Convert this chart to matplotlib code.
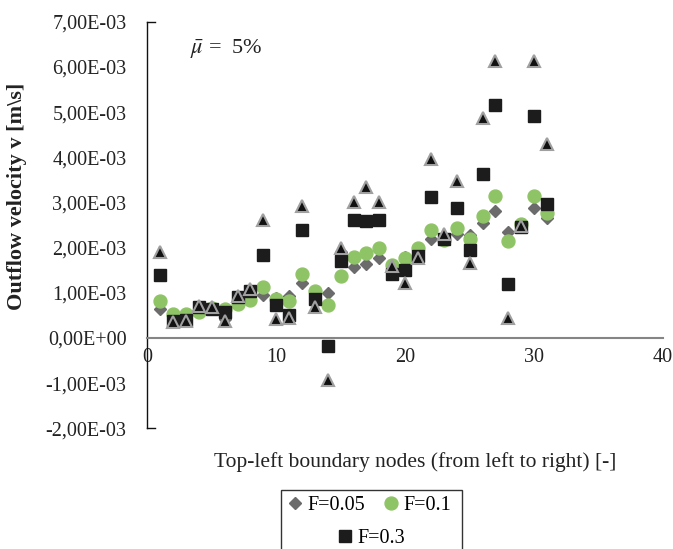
import matplotlib
matplotlib.use("Agg")
import matplotlib.pyplot as plt
from matplotlib.lines import Line2D
from matplotlib.patches import Rectangle
from matplotlib.ticker import FuncFormatter, MultipleLocator

plt.rcParams['font.family'] = ['Liberation Serif', 'DejaVu Serif']
plt.rcParams['mathtext.fontset'] = 'stix'

nodes = list(range(1, 32))
f005 = [0.65, 0.40, 0.40, 0.65, 0.63, 0.42, 0.85, 0.95, 0.96, 0.88, 0.93, 1.22, 0.95, 1.00, 1.90,
        1.57, 1.64, 1.78, 1.62, 1.80, 1.85, 2.20, 2.22, 2.31, 2.28, 2.55, 2.81, 2.35, 2.45, 2.88, 2.66]
f01 = [0.81, 0.54, 0.54, 0.57, 0.66, 0.65, 0.76, 0.84, 1.13, 0.87, 0.81, 1.42, 1.04, 0.74, 1.37,
       1.79, 1.87, 1.99, 1.61, 1.77, 1.99, 2.38, 2.16, 2.43, 2.20, 2.71, 3.15, 2.14, 2.53, 3.15, 2.77]
f03 = [1.385, 0.38, 0.40, 0.69, 0.65, 0.57, 0.91, 1.05, 1.84, 0.72, 0.50, 2.40, 0.86, -0.18, 1.70,
       2.60, 2.58, 2.60, 1.42, 1.50, 1.81, 3.12, 2.18, 2.88, 1.94, 3.63, 5.16, 1.20, 2.45, 4.92, 2.97]
f_tri = [1.90, 0.35, 0.38, 0.70, 0.68, 0.38, 0.93, 1.09, 2.60, 0.43, 0.45, 2.91, 0.69, -0.92, 1.98,
         3.02, 3.34, 3.02, 1.60, 1.22, 1.77, 3.95, 2.29, 3.47, 1.66, 4.87, 6.14, 0.44, 2.48, 6.14, 4.30]
scale = 1e-3

W, H = 673, 549
fig = plt.figure(figsize=(W / 100, H / 100), dpi=100)
ax = fig.add_axes([147.3 / W, 1 - 428.3 / H, (663 - 147.3) / W, (428.3 - 21.7) / H])

c_dia = '#6b6b6b'
c_cir = '#8fc466'
c_sq = '#1c1c1c'

ax.plot(nodes, [v * scale for v in f005], linestyle='none', marker='D', ms=6.2,
        mfc=c_dia, mec=c_dia, zorder=3)
ax.plot(nodes, [v * scale for v in f01], linestyle='none', marker='o', ms=9.3,
        mfc=c_cir, mec=c_cir, zorder=4)
ax.plot(nodes, [v * scale for v in f03], linestyle='none', marker='s', ms=8.0,
        mfc=c_sq, mec=c_sq, zorder=5)
ax.plot(nodes, [v * scale for v in f_tri], linestyle='none', marker='^', ms=8.3,
        mfc='#111111', mec='#a0a0a0', mew=1.5, zorder=6)

ax.set_xlim(0, 40)
ax.set_ylim(-2e-3, 7e-3)
ax.xaxis.set_major_locator(MultipleLocator(10))
ax.yaxis.set_major_locator(MultipleLocator(1e-3))
ax.yaxis.set_major_formatter(FuncFormatter(lambda v, p: f"{v:.2E}".replace('.', ',')))

for s in ['top', 'right']:
    ax.spines[s].set_visible(False)
ax.spines['bottom'].set_position(('data', 0))
ax.spines['bottom'].set_color('#858585')
ax.spines['bottom'].set_linewidth(1.5)
ax.spines['left'].set_color('#111111')
ax.spines['left'].set_linewidth(1.0)
ax.tick_params(axis='both', length=0, labelsize=14.5, colors='#222222')
ax.tick_params(axis='y', pad=15)
ax.tick_params(axis='x', pad=7)

# small caps at the ends of the vertical axis
for yv in (7e-3, -2e-3):
    ax.plot([0, 0.6], [yv, yv], color='#111111', lw=1.0, clip_on=False, zorder=2)

ax.text(3.3, 6.3e-3, r'$\bar{\mu}$ =  5%', fontsize=16, color='#222222')

fig.text(17 / W, 1 - 196 / H, r'Outflow velocity v [m\s]', rotation=90, fontsize=16,
         fontweight='bold', ha='center', va='center', color='#222222')
fig.text(415 / W, 1 - 462 / H, 'Top-left boundary nodes (from left to right) [-]',
         fontsize=15.5, ha='center', va='center', color='#222222')

# legend
h1 = Line2D([], [], linestyle='none', marker='D', ms=6.2, mfc=c_dia, mec=c_dia)
h2 = Line2D([], [], linestyle='none', marker='o', ms=9.3, mfc=c_cir, mec=c_cir)
h3 = Line2D([], [], linestyle='none', marker='s', ms=8.0, mfc=c_sq, mec=c_sq)
fig.legend([h1, h2], ['F=0.05', 'F=0.1'], ncol=2, frameon=False, loc='center',
           bbox_to_anchor=(370 / W, 1 - 505 / H), fontsize=14.5, handlelength=0.6,
           handletextpad=0.3, columnspacing=1.0, borderpad=0, borderaxespad=0)
fig.legend([h3], ['F=0.3'], frameon=False, loc='center',
           bbox_to_anchor=(372 / W, 1 - 538 / H), fontsize=14.5, handlelength=0.6,
           handletextpad=0.3, borderpad=0, borderaxespad=0)
fig.add_artist(Rectangle((281 / W, -0.05), (462 - 281) / W, (549 - 490) / H + 0.05,
                         transform=fig.transFigure, fill=False, ec='#333333', lw=1.0))

fig.savefig('out.png', dpi=100)
